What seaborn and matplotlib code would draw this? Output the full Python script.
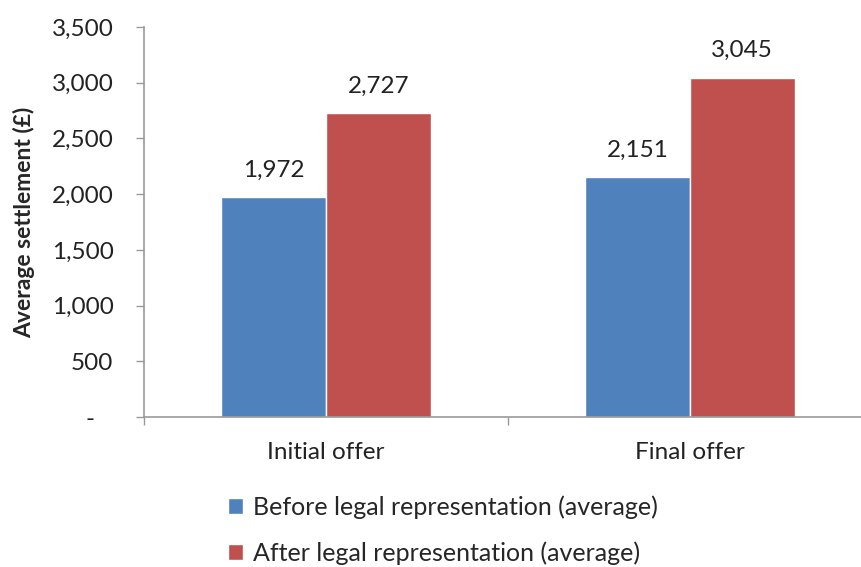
import pandas as pd
import matplotlib
matplotlib.use('Agg')
import matplotlib.pyplot as plt
import seaborn as sns
from matplotlib.ticker import FuncFormatter, FixedLocator

# chart data
offers = ['Initial offer', 'Final offer']
series = ['Before legal representation (average)', 'After legal representation (average)']
before_vals = [1972, 2151]
after_vals = [2727, 3045]
colors = ['#4F81BD', '#C0504D']

df = pd.DataFrame({
    'offer': offers * 2,
    'series': [series[0]] * 2 + [series[1]] * 2,
    'value': before_vals + after_vals,
})

sns.set_style('white')
plt.rcParams['font.family'] = ['Lato', 'DejaVu Sans']

fig = plt.figure(figsize=(8.62, 5.67), dpi=100)
ax = fig.add_axes([144 / 862, 1 - 417 / 567, 728 / 862, 390 / 567])

sns.barplot(data=df, x='offer', y='value', hue='series', palette=colors,
            width=0.575, gap=0, saturation=1, ax=ax, legend=True)

# value labels
for cont in ax.containers:
    ax.bar_label(cont, labels=[f'{v:,.0f}' for v in cont.datavalues],
                 padding=12, fontsize=17.5, color='#222222')

ax.set_ylim(0, 3500)
ax.set_xlim(-0.5, 1.5)
ax.set_yticks(range(0, 3501, 500))
ax.yaxis.set_major_formatter(FuncFormatter(lambda v, p: '-   ' if v == 0 else f'{v:,.0f}'))
ax.set_xlabel('')
ax.set_ylabel('Average settlement (£)', fontsize=16.5, fontweight='bold', labelpad=12)

# category boundary ticks
ax.xaxis.set_minor_locator(FixedLocator([-0.5, 0.5, 1.5]))
ax.tick_params(axis='x', which='major', bottom=True, length=0, labelsize=17.5, pad=18,
               colors='#222222')
ax.tick_params(axis='x', which='minor', bottom=True, length=6, width=1, color='#999999',
               direction='out')
ax.tick_params(axis='y', which='major', left=True, length=6, width=1, color='#999999',
               direction='out', labelsize=17.5, labelcolor='#222222', pad=16)

sns.despine(ax=ax)
for s in ['left', 'bottom']:
    ax.spines[s].set_color('#999999')
    ax.spines[s].set_linewidth(1.2)

handles, labels = ax.get_legend_handles_labels()
ax.get_legend().remove()
fig.legend(handles, labels, loc='upper left', bbox_to_anchor=(216 / 862, 1 - 483 / 567),
           frameon=False, fontsize=18, handlelength=0.6, handleheight=0.6,
           handletextpad=0.4, labelspacing=0.9, borderpad=0)

fig.savefig('out.png', dpi=100)
